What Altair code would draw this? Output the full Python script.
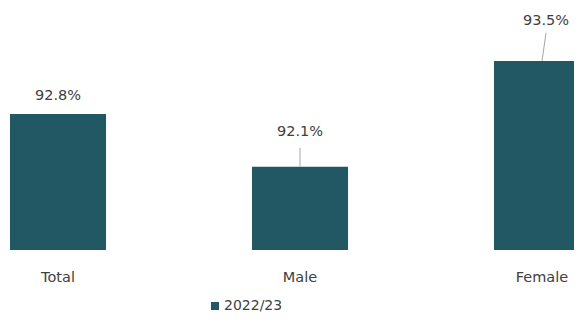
import altair as alt
import pandas as pd

categories = ["Total", "Male", "Female"]
values = [92.8, 92.1, 93.5]
labels = ["92.8%", "92.1%", "93.5%"]
series = "2022/23"

# layout constants (pixels)
Y_MIN, Y_MAX = 91.0, 94.2
PLOT_H = 242
PPU = PLOT_H / (Y_MAX - Y_MIN)
label_lift_px = [18, 35, 40]
leader_px = [0, 19, 28]

df = pd.DataFrame({"cat": categories, "value": values, "label": labels, "series": series})
df["base"] = Y_MIN
df["label_y"] = [v + p / PPU for v, p in zip(values, label_lift_px)]
df["lead_top"] = [v + p / PPU for v, p in zip(values, leader_px)]

COLOR = "#225864"
FONT = "DejaVu Sans"
TXT = "#404040"
FS = 14.5

x = alt.X("cat:N", sort=categories, title=None,
          scale=alt.Scale(range=[-71, 655], paddingInner=0.603, paddingOuter=0.3015),
          axis=alt.Axis(labelAngle=0, domain=False, ticks=False, labelPadding=20,
                        labelFont=FONT, labelFontSize=FS, labelColor=TXT))
y = alt.Y("value:Q", title=None, scale=alt.Scale(domain=[Y_MIN, Y_MAX], zero=False, nice=False),
          axis=None)

base = alt.Chart(df)

bars = base.mark_bar(clip=True).encode(
    x=x, y=y, y2="base:Q",
    color=alt.Color("series:N", scale=alt.Scale(range=[COLOR]),
                    legend=alt.Legend(title=None, orient="none", legendX=200, legendY=291,
                                      symbolType="square", symbolSize=64, labelFont=FONT,
                                      labelFontSize=14, labelColor=TXT, symbolStrokeWidth=0,
                                      labelOffset=2)),
)

text_f = base.transform_filter(alt.datum.cat == "Female").mark_text(
    font=FONT, fontSize=FS, color=TXT, baseline="middle", dx=4).encode(
    x=alt.X("cat:N", sort=categories), y=alt.Y("label_y:Q"), text="label:N"
)
text_o = base.transform_filter(alt.datum.cat != "Female").mark_text(
    font=FONT, fontSize=FS, color=TXT, baseline="middle").encode(
    x=alt.X("cat:N", sort=categories), y=alt.Y("label_y:Q"), text="label:N"
)

lead_m = base.transform_filter(alt.datum.cat == "Male").mark_rule(color="#A6A6A6", strokeWidth=1).encode(
    x=alt.X("cat:N", sort=categories), y=alt.Y("value:Q"), y2="lead_top:Q"
)
lead_f = base.transform_filter(alt.datum.cat == "Female").mark_rule(
    color="#A6A6A6", strokeWidth=1, x2Offset=4).encode(
    x=alt.X("cat:N", sort=categories), x2=alt.X2("cat:N"), y=alt.Y("value:Q"), y2="lead_top:Q"
)

chart = alt.layer(bars, lead_m, lead_f, text_o, text_f).properties(
    width=566, height=PLOT_H,
    autosize=alt.AutoSizeParams(type="none"),
    padding={"left": 0, "top": 0, "right": 0, "bottom": 66},
).configure(background="white", view=alt.ViewConfig(stroke="transparent", strokeWidth=0))

chart.save("out.html", embed_options={"renderer": "svg", "actions": False})
